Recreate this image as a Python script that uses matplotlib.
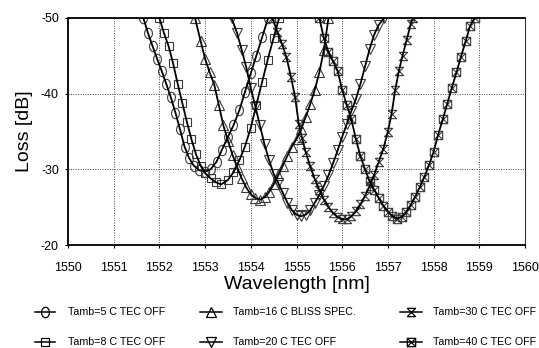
import matplotlib
matplotlib.use("Agg")
import matplotlib.pyplot as plt
from matplotlib.path import Path
from matplotlib.lines import Line2D
import numpy as np

plt.rcParams['font.family'] = ['Liberation Sans', 'DejaVu Sans']

# ---------------- data ----------------
labels = ["Tamb=5 C TEC OFF", "Tamb=8 C TEC OFF", "Tamb=16 C BLISS SPEC.",
          "Tamb=20 C TEC OFF", "Tamb=30 C TEC OFF", "Tamb=40 C TEC OFF"]

x_5c = [1551.65, 1551.75, 1551.85, 1551.95, 1552.05, 1552.15, 1552.25, 1552.35, 1552.45,
        1552.55, 1552.65, 1552.75, 1552.87, 1553.0, 1553.12, 1553.25, 1553.37, 1553.5,
        1553.62, 1553.75, 1553.87, 1554.0, 1554.12, 1554.25, 1554.38]
y_5c = [-50, -48.0, -46.3, -44.6, -43.0, -41.3, -39.5, -37.5, -35.3,
        -33.0, -31.5, -30.5, -29.9, -29.7, -30.0, -31.0, -32.6, -34.3,
        -35.8, -37.8, -40.2, -42.7, -45.0, -47.5, -50]

x_8c = [1552.0, 1552.1, 1552.2, 1552.3, 1552.4, 1552.5, 1552.6, 1552.7, 1552.8, 1552.9,
        1553.0, 1553.12, 1553.23, 1553.35, 1553.5, 1553.62, 1553.75, 1553.87, 1554.0,
        1554.12, 1554.25, 1554.37, 1554.5, 1554.62]
y_8c = [-50, -48.0, -46.3, -44.0, -41.3, -38.8, -36.3, -34.0, -32.0, -30.5,
        -29.5, -28.8, -28.3, -28.0, -28.6, -29.6, -31.2, -33.0, -35.5,
        -38.5, -41.6, -44.5, -47.4, -50]

x_16c = [1552.78, 1552.9, 1553.0, 1553.1, 1553.2, 1553.3, 1553.4, 1553.5, 1553.6, 1553.7,
         1553.8, 1553.9, 1554.0, 1554.1, 1554.2, 1554.3, 1554.4, 1554.5, 1554.6, 1554.7,
         1554.8, 1554.9, 1555.0, 1555.1, 1555.2, 1555.3, 1555.4, 1555.5, 1555.6, 1555.7]
y_16c = [-50, -47.0, -44.6, -42.8, -41.2, -38.5, -35.8, -33.8, -31.9, -30.3,
         -28.8, -27.6, -26.7, -26.2, -26.0, -26.3, -27.0, -28.0, -29.2, -30.5,
         -31.8, -33.0, -34.0, -35.3, -36.9, -38.6, -40.5, -42.8, -45.8, -50]

x_20c = [1553.58, 1553.7, 1553.8, 1553.9, 1554.0, 1554.1, 1554.2, 1554.3, 1554.4, 1554.5,
         1554.6, 1554.7, 1554.8, 1554.9, 1555.0, 1555.1, 1555.2, 1555.3, 1555.4, 1555.5,
         1555.6, 1555.7, 1555.8, 1555.9, 1556.0, 1556.1, 1556.2, 1556.3, 1556.4, 1556.5,
         1556.6, 1556.7, 1556.8, 1556.92]
y_20c = [-50, -48.0, -45.8, -43.5, -40.7, -38.3, -35.8, -33.3, -31.2, -29.4,
         -28.2, -26.9, -25.6, -24.6, -24.0, -23.8, -24.0, -24.6, -25.6, -26.6,
         -27.8, -29.2, -30.8, -32.5, -34.3, -36.0, -37.7, -39.3, -41.3, -43.6,
         -45.9, -47.8, -49.1, -50]

x_30c = [1554.47, 1554.58, 1554.68, 1554.78, 1554.88, 1554.97, 1555.05, 1555.12, 1555.2,
         1555.3, 1555.4, 1555.5, 1555.6, 1555.7, 1555.8, 1555.9, 1556.0, 1556.1, 1556.2,
         1556.3, 1556.4, 1556.5, 1556.6, 1556.7, 1556.8, 1556.9, 1557.0, 1557.08, 1557.16,
         1557.24, 1557.32, 1557.41, 1557.5, 1557.55]
y_30c = [-50, -48.2, -46.6, -44.8, -42.2, -39.5, -36.0, -34.2, -32.3,
         -30.4, -28.7, -27.3, -26.0, -25.0, -24.2, -23.7, -23.4, -23.4, -23.8,
         -24.5, -25.4, -26.5, -27.8, -29.3, -31.0, -32.7, -35.0, -37.3, -40.5,
         -43.0, -45.0, -47.1, -49.2, -50]

x_40c = [1555.5, 1555.6, 1555.7, 1555.8, 1555.9, 1556.0, 1556.1, 1556.2, 1556.3, 1556.4,
         1556.5, 1556.6, 1556.7, 1556.8, 1556.9, 1557.0, 1557.1, 1557.2, 1557.3, 1557.4,
         1557.5, 1557.6, 1557.7, 1557.8, 1557.9, 1558.0, 1558.1, 1558.2, 1558.3, 1558.4,
         1558.5, 1558.6, 1558.7, 1558.8, 1558.9]
y_40c = [-50, -47.3, -45.5, -44.3, -43.0, -40.5, -38.5, -36.6, -34.0, -31.7,
         -30.0, -28.4, -27.3, -26.2, -25.2, -24.4, -23.8, -23.5, -23.7, -24.4,
         -25.3, -26.4, -27.7, -29.0, -30.6, -32.3, -34.6, -36.6, -38.7, -40.8,
         -42.8, -44.9, -46.9, -49.0, -50]

x_ticks = [1550, 1551, 1552, 1553, 1554, 1555, 1556, 1557, 1558, 1559, 1560]
y_ticks = [-50, -40, -30, -20]

# ---------------- markers ----------------
t = np.linspace(0, 2 * np.pi, 40)
ellipse = Path(np.column_stack([0.75 * np.cos(t), np.sin(t)]), closed=True)
M, L = Path.MOVETO, Path.LINETO
hourglass = Path([(-1, -1), (1, 1), (-1, 1), (1, -1), (-1, 1), (1, 1), (-1, -1), (1, -1)],
                 [M, L, M, L, M, L, M, L])
boxx = Path([(-1, -1), (1, -1), (1, 1), (-1, 1), (-1, -1), (1, 1), (-1, 1), (1, -1)],
            [M, L, L, L, L, L, M, L])
markers = [ellipse, 's', '^', 'v', hourglass, boxx]
msizes = [7.5, 6.0, 6.5, 6.5, 6.0, 6.0]

series = [(x_5c, y_5c), (x_8c, y_8c), (x_16c, y_16c),
          (x_20c, y_20c), (x_30c, y_30c), (x_40c, y_40c)]

W, H = 539, 348
fig = plt.figure(figsize=(W / 100, H / 100), dpi=100)
ax = fig.add_axes([68 / W, 1 - 245 / H, (525 - 68) / W, (245 - 18) / H])

mec = '#3a3a3a'
for (xs, ys), mk, ms in zip(series, markers, msizes):
    ax.plot(xs, ys, color='black', lw=1.3, zorder=3)
    ax.plot(xs, ys, linestyle='none', marker=mk, markersize=ms,
            markerfacecolor='none', markeredgecolor=mec, markeredgewidth=0.8, zorder=2)

ax.set_xlim(1550, 1560)
ax.set_ylim(-20, -50)
ax.set_xticks(x_ticks)
ax.set_yticks(y_ticks)
ax.set_xticklabels([str(v) for v in x_ticks])
ax.set_yticklabels([str(v) for v in y_ticks])
ax.tick_params(axis='both', labelsize=9, length=2.5, width=0.8, direction='out')
ax.tick_params(axis='x', pad=10)
ax.tick_params(axis='y', pad=4)
ax.grid(True, color='#444444', linestyle=(0, (1, 1.5)), linewidth=0.7)
ax.set_axisbelow(True)
for s in ['left', 'bottom', 'top']:
    ax.spines[s].set_linewidth(1.3)
    ax.spines[s].set_color('black')
ax.spines['right'].set_linewidth(0.8)
ax.spines['right'].set_color('#333333')

ax.set_ylabel('Loss [dB]', fontsize=14, labelpad=6)
ax.set_xlabel('Wavelength [nm]', fontsize=14, labelpad=1.5)

# ---------------- legend (manual layout) ----------------
col_line = [(35, 55), (200, 222), (400, 422)]
col_text = [68, 233, 433]
row_y = [312, 342]
for i, lab in enumerate(labels):
    c, r = i // 2, i % 2
    x0, x1 = col_line[c]
    yy = 1 - row_y[r] / H
    fig.add_artist(Line2D([x0 / W, x1 / W], [yy, yy], color='black', lw=1.1,
                          transform=fig.transFigure))
    fig.add_artist(Line2D([(x0 + x1) / 2 / W], [yy], linestyle='none', marker=markers[i],
                          markersize=msizes[i], markerfacecolor='none', markeredgecolor='black',
                          markeredgewidth=0.9, transform=fig.transFigure))
    fig.text(col_text[c] / W, yy, lab, fontsize=7.7, ha='left', va='center')

fig.savefig('out.png', dpi=100)
